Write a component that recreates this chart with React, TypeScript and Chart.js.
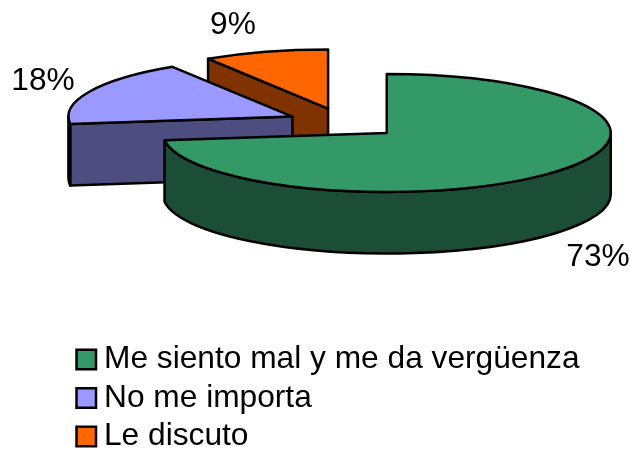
import React, { useEffect, useRef } from "react";
import { Chart, registerables } from "chart.js";

Chart.register(...registerables);

const categories = ["Me siento mal y me da vergüenza", "No me importa", "Le discuto"];
const values = [73, 18, 9];
const topColors = ["#339966", "#9999FF", "#FF6600"];
const wallColors = ["#1C4D36", "#4D4D80", "#803300"];
const labelAnchors = [
  [598, 257],
  [43, 81],
  [233, 25],
];

const FONT = '"Liberation Sans", Arial, sans-serif';
const SQUASH = 59 / 224;
const DEPTH = 61.5;
const EPS = 1e-6;
const LEGEND_X = 76.5;
const LEGEND_TEXT_X = 104;
const LEGEND_Y = 359.5;
const LEGEND_STEP = 38.5;
const LEGEND_BOX = 19.5;

const pie3d = {
  id: "pie3d",
  beforeDatasetsDraw(chart: any) {
    const ctx = chart.ctx;
    const arcs: any[] = chart.getDatasetMeta(0).data;
    const cy0 = (chart.chartArea.top + chart.chartArea.bottom) / 2;
    const items = arcs.map((arc, i) => {
      const mid = (arc.startAngle + arc.endAngle) / 2;
      const off = arc.options.offset / 4;
      return {
        i,
        a0: arc.startAngle,
        a1: arc.endAngle,
        rx: arc.outerRadius,
        ry: arc.outerRadius * SQUASH,
        cx: arc.x + Math.cos(mid) * off,
        cy: cy0 + Math.sin(mid) * off * SQUASH,
      };
    });
    items.sort((p, q) => p.cy - q.cy);
    ctx.save();
    ctx.lineWidth = 2.5;
    ctx.lineJoin = "round";
    ctx.strokeStyle = "#000";
    for (const s of items) {
      const pt = (a: number): [number, number] => [s.cx + s.rx * Math.cos(a), s.cy + s.ry * Math.sin(a)];
      const quad = (a: number) => {
        const [x, y] = pt(a);
        ctx.beginPath();
        ctx.moveTo(s.cx, s.cy);
        ctx.lineTo(x, y);
        ctx.lineTo(x, y + DEPTH);
        ctx.lineTo(s.cx, s.cy + DEPTH);
        ctx.closePath();
        ctx.fillStyle = wallColors[s.i];
        ctx.fill();
        ctx.stroke();
      };
      if (Math.cos(s.a0) < -EPS) quad(s.a0);
      if (Math.cos(s.a1) > EPS) quad(s.a1);
      const b0 = Math.max(s.a0, 0);
      const b1 = Math.min(s.a1, Math.PI);
      if (b1 > b0) {
        ctx.beginPath();
        ctx.ellipse(s.cx, s.cy, s.rx, s.ry, 0, b0, b1);
        ctx.ellipse(s.cx, s.cy + DEPTH, s.rx, s.ry, 0, b1, b0, true);
        ctx.closePath();
        ctx.fillStyle = wallColors[s.i];
        ctx.fill();
        ctx.stroke();
      }
      ctx.beginPath();
      ctx.moveTo(s.cx, s.cy);
      ctx.ellipse(s.cx, s.cy, s.rx, s.ry, 0, s.a0, s.a1);
      ctx.closePath();
      ctx.fillStyle = topColors[s.i];
      ctx.fill();
      ctx.stroke();
    }
    ctx.restore();
    return false;
  },
  afterDraw(chart: any) {
    const ctx = chart.ctx;
    ctx.save();
    ctx.font = `31.7px ${FONT}`;
    ctx.fillStyle = "#000";
    ctx.textAlign = "center";
    ctx.textBaseline = "middle";
    values.forEach((v, i) => {
      ctx.fillText(`${v}%`, labelAnchors[i][0], labelAnchors[i][1]);
    });
    ctx.textAlign = "left";
    ctx.lineWidth = 2.5;
    ctx.strokeStyle = "#000";
    const items = (Chart as any).overrides.pie.plugins.legend.labels.generateLabels(chart);
    items.forEach((item: any, i: number) => {
      const y = LEGEND_Y + i * LEGEND_STEP;
      ctx.fillStyle = item.fillStyle;
      ctx.fillRect(LEGEND_X, y - LEGEND_BOX / 2, LEGEND_BOX, LEGEND_BOX);
      ctx.strokeRect(LEGEND_X, y - LEGEND_BOX / 2, LEGEND_BOX, LEGEND_BOX);
      ctx.fillStyle = "#000";
      ctx.fillText(item.text, LEGEND_TEXT_X, y);
    });
    ctx.restore();
  },
};

export default function App() {
  const ref = useRef<HTMLCanvasElement>(null);
  useEffect(() => {
    const chart = new Chart(ref.current!, {
      type: "pie",
      data: {
        labels: categories,
        datasets: [
          {
            data: values,
            backgroundColor: topColors,
            borderColor: "#000",
            borderWidth: 2,
            offset: 228,
          },
        ],
      },
      options: {
        animation: false,
        responsive: false,
        radius: 224,
        layout: { padding: { left: 60, right: 2, top: 0, bottom: 203 } },
        plugins: {
          tooltip: { enabled: false },
          legend: { display: false },
        },
      },
      plugins: [pie3d],
    } as any);
    return () => chart.destroy();
  }, []);
  return (
    <canvas
      ref={ref}
      width={630}
      height={449}
      style={{ position: "absolute", left: 0, top: 0, width: 630, height: 449 }}
    />
  );
}
